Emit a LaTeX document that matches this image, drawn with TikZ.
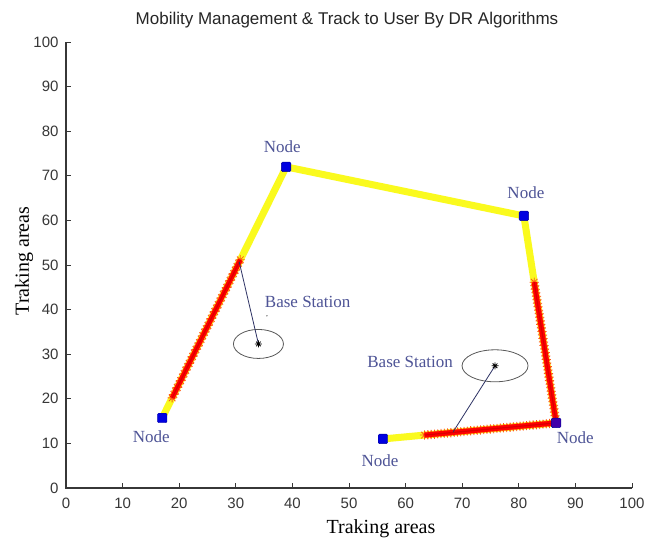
\documentclass[tikz,border=0pt]{standalone}
\usepackage{fontspec}
\setmainfont{Liberation Serif}
\newfontfamily\arialf{Liberation Sans}
\usetikzlibrary{calc}
\definecolor{lblblue}{RGB}{78,84,150}
\definecolor{nodeblue}{RGB}{0,0,225}
\definecolor{yel}{RGB}{250,250,30}
\definecolor{axgray}{RGB}{55,55,55}
\definecolor{starred}{RGB}{255,90,20}
\definecolor{bsline}{RGB}{45,50,100}
\tikzset{
  sq/.style={fill=nodeblue, draw=nodeblue!70!black, line width=0.4pt, minimum size=9.5pt, inner sep=0pt, rounded corners=1.2pt},
  nlabel/.style={text=lblblue, font=\fontsize{17}{19}\selectfont},
  ticklab/.style={text=axgray, font=\arialf\fontsize{15}{17}\selectfont},
  redseg/.style={red, line width=5pt},
  yelline/.style={yel, line width=7pt, line join=round},
  ast/.pic={\draw[starred, line width=0.8pt] (-4.6pt,0)--(4.6pt,0) (0,-4.6pt)--(0,4.6pt) (-3.3pt,-3.3pt)--(3.3pt,3.3pt) (-3.3pt,3.3pt)--(3.3pt,-3.3pt);},
  bsast/.pic={\draw[black, line width=0.8pt] (-3.5pt,0)--(3.5pt,0) (0,-3.5pt)--(0,3.5pt) (-2.3pt,-2.3pt)--(2.3pt,2.3pt) (-2.3pt,2.3pt)--(2.3pt,-2.3pt);},
  bsconn/.style={bsline, line width=0.8pt},
  ell/.style={draw=black!65, line width=0.8pt}
}
\begin{document}
\begin{tikzpicture}[x=1pt,y=-1pt]
\useasboundingbox (0,0) rectangle (645,541);
\fill[white] (0,0) rectangle (645,541);
% title and axis labels
\node[font=\arialf\fontsize{17}{19}\selectfont, text=black!85] (title) at (347,20) {Mobility Management \& Track to User By DR Algorithms};
\node[font=\fontsize{20}{22}\selectfont] (xlab) at (381,529) {Traking areas};
\node[font=\fontsize{20}{22}\selectfont, rotate=90] (ylab) at (24,261) {Traking areas};
\begin{scope}[shift={(66,488)}, x=5.66pt, y=4.46pt]
  % axes
  \draw[axgray, line width=1.1pt] (0,100) -- (0,0) -- (100,0);
  \foreach \v in {0,10,...,100} {
    \draw[axgray, line width=0.9pt] (\v,0) -- ++(0,5pt);
    \draw[axgray, line width=0.9pt] (0,\v) -- ++(5pt,0);
    \node[ticklab, anchor=north] at ([yshift=-6pt]\v,0) {\v};
    \node[ticklab, anchor=east] at ([xshift=-4pt]0,\v) {\v};
  }
  % node positions
  \coordinate (A) at (17,15.7);
  \coordinate (B) at (38.9,72);
  \coordinate (C) at (80.9,61);
  \coordinate (D) at (86.6,14.6);
  \coordinate (E) at (56,11);
  % yellow route
  \draw[yelline] (A) -- (B) -- (C) -- (D) -- (E);
  % red tracked segments
  \coordinate (ab1) at ($(A)!0.08!(B)$);
  \coordinate (ab2) at ($(A)!0.63!(B)$);
  \coordinate (cd1) at ($(C)!0.32!(D)$);
  \coordinate (de2) at ($(D)!0.76!(E)$);
  \foreach \t in {0,0.025,...,1.001} {
    \path ($(ab1)!\t!(ab2)$) pic{ast};
    \path ($(cd1)!\t!(D)$) pic{ast};
    \path ($(D)!\t!(de2)$) pic{ast};
  }
  \draw[redseg] (ab1) -- (ab2);
  \draw[redseg] (cd1) -- (D) -- (de2);
  \draw[red!85!black, line width=1.2pt] (ab1) -- (ab2);
  \draw[red!85!black, line width=1.2pt] (cd1) -- (D) -- (de2);
  % node squares
  \node[sq] (nA) at (A) {};
  \node[sq] (nB) at (B) {};
  \node[sq] (nC) at (C) {};
  \node[sq, fill=nodeblue!75!red] (nD) at (D) {};
  \node[sq] (nE) at (E) {};
  \node[nlabel] (lA) at ([xshift=-11pt,yshift=-19pt]A) {Node};
  \node[nlabel] (lB) at ([xshift=-4pt,yshift=20pt]B) {Node};
  \node[nlabel] (lC) at ([xshift=2pt,yshift=23pt]C) {Node};
  \node[nlabel] (lD) at ([xshift=19pt,yshift=-15pt]D) {Node};
  \node[nlabel] (lE) at ([xshift=-3pt,yshift=-22pt]E) {Node};
  % base stations
  \coordinate (bs1) at (34.0,32.3);
  \coordinate (bs2) at (75.8,27.4);
  \coordinate (t1) at (30.6,50.7);
  \coordinate (t2) at (68.4,12.6);
  \draw[ell] (bs1) ellipse [x radius=25pt, y radius=14.5pt];
  \draw[ell] (bs2) ellipse [x radius=33pt, y radius=16pt];
  \draw[bsconn] (bs1) -- (t1);
  \draw[bsconn] (bs2) -- (t2);
  \path (bs1) pic{bsast};
  \path (bs2) pic{bsast};
  \node[nlabel] (lbs1) at (42.7,41.7) {Base Station};
  \node[nlabel] (lbs2) at (60.8,28.2) {Base Station};
  \fill[black!70] (35.5,38.6) circle (0.7pt);
\end{scope}
\end{tikzpicture}
\end{document}
